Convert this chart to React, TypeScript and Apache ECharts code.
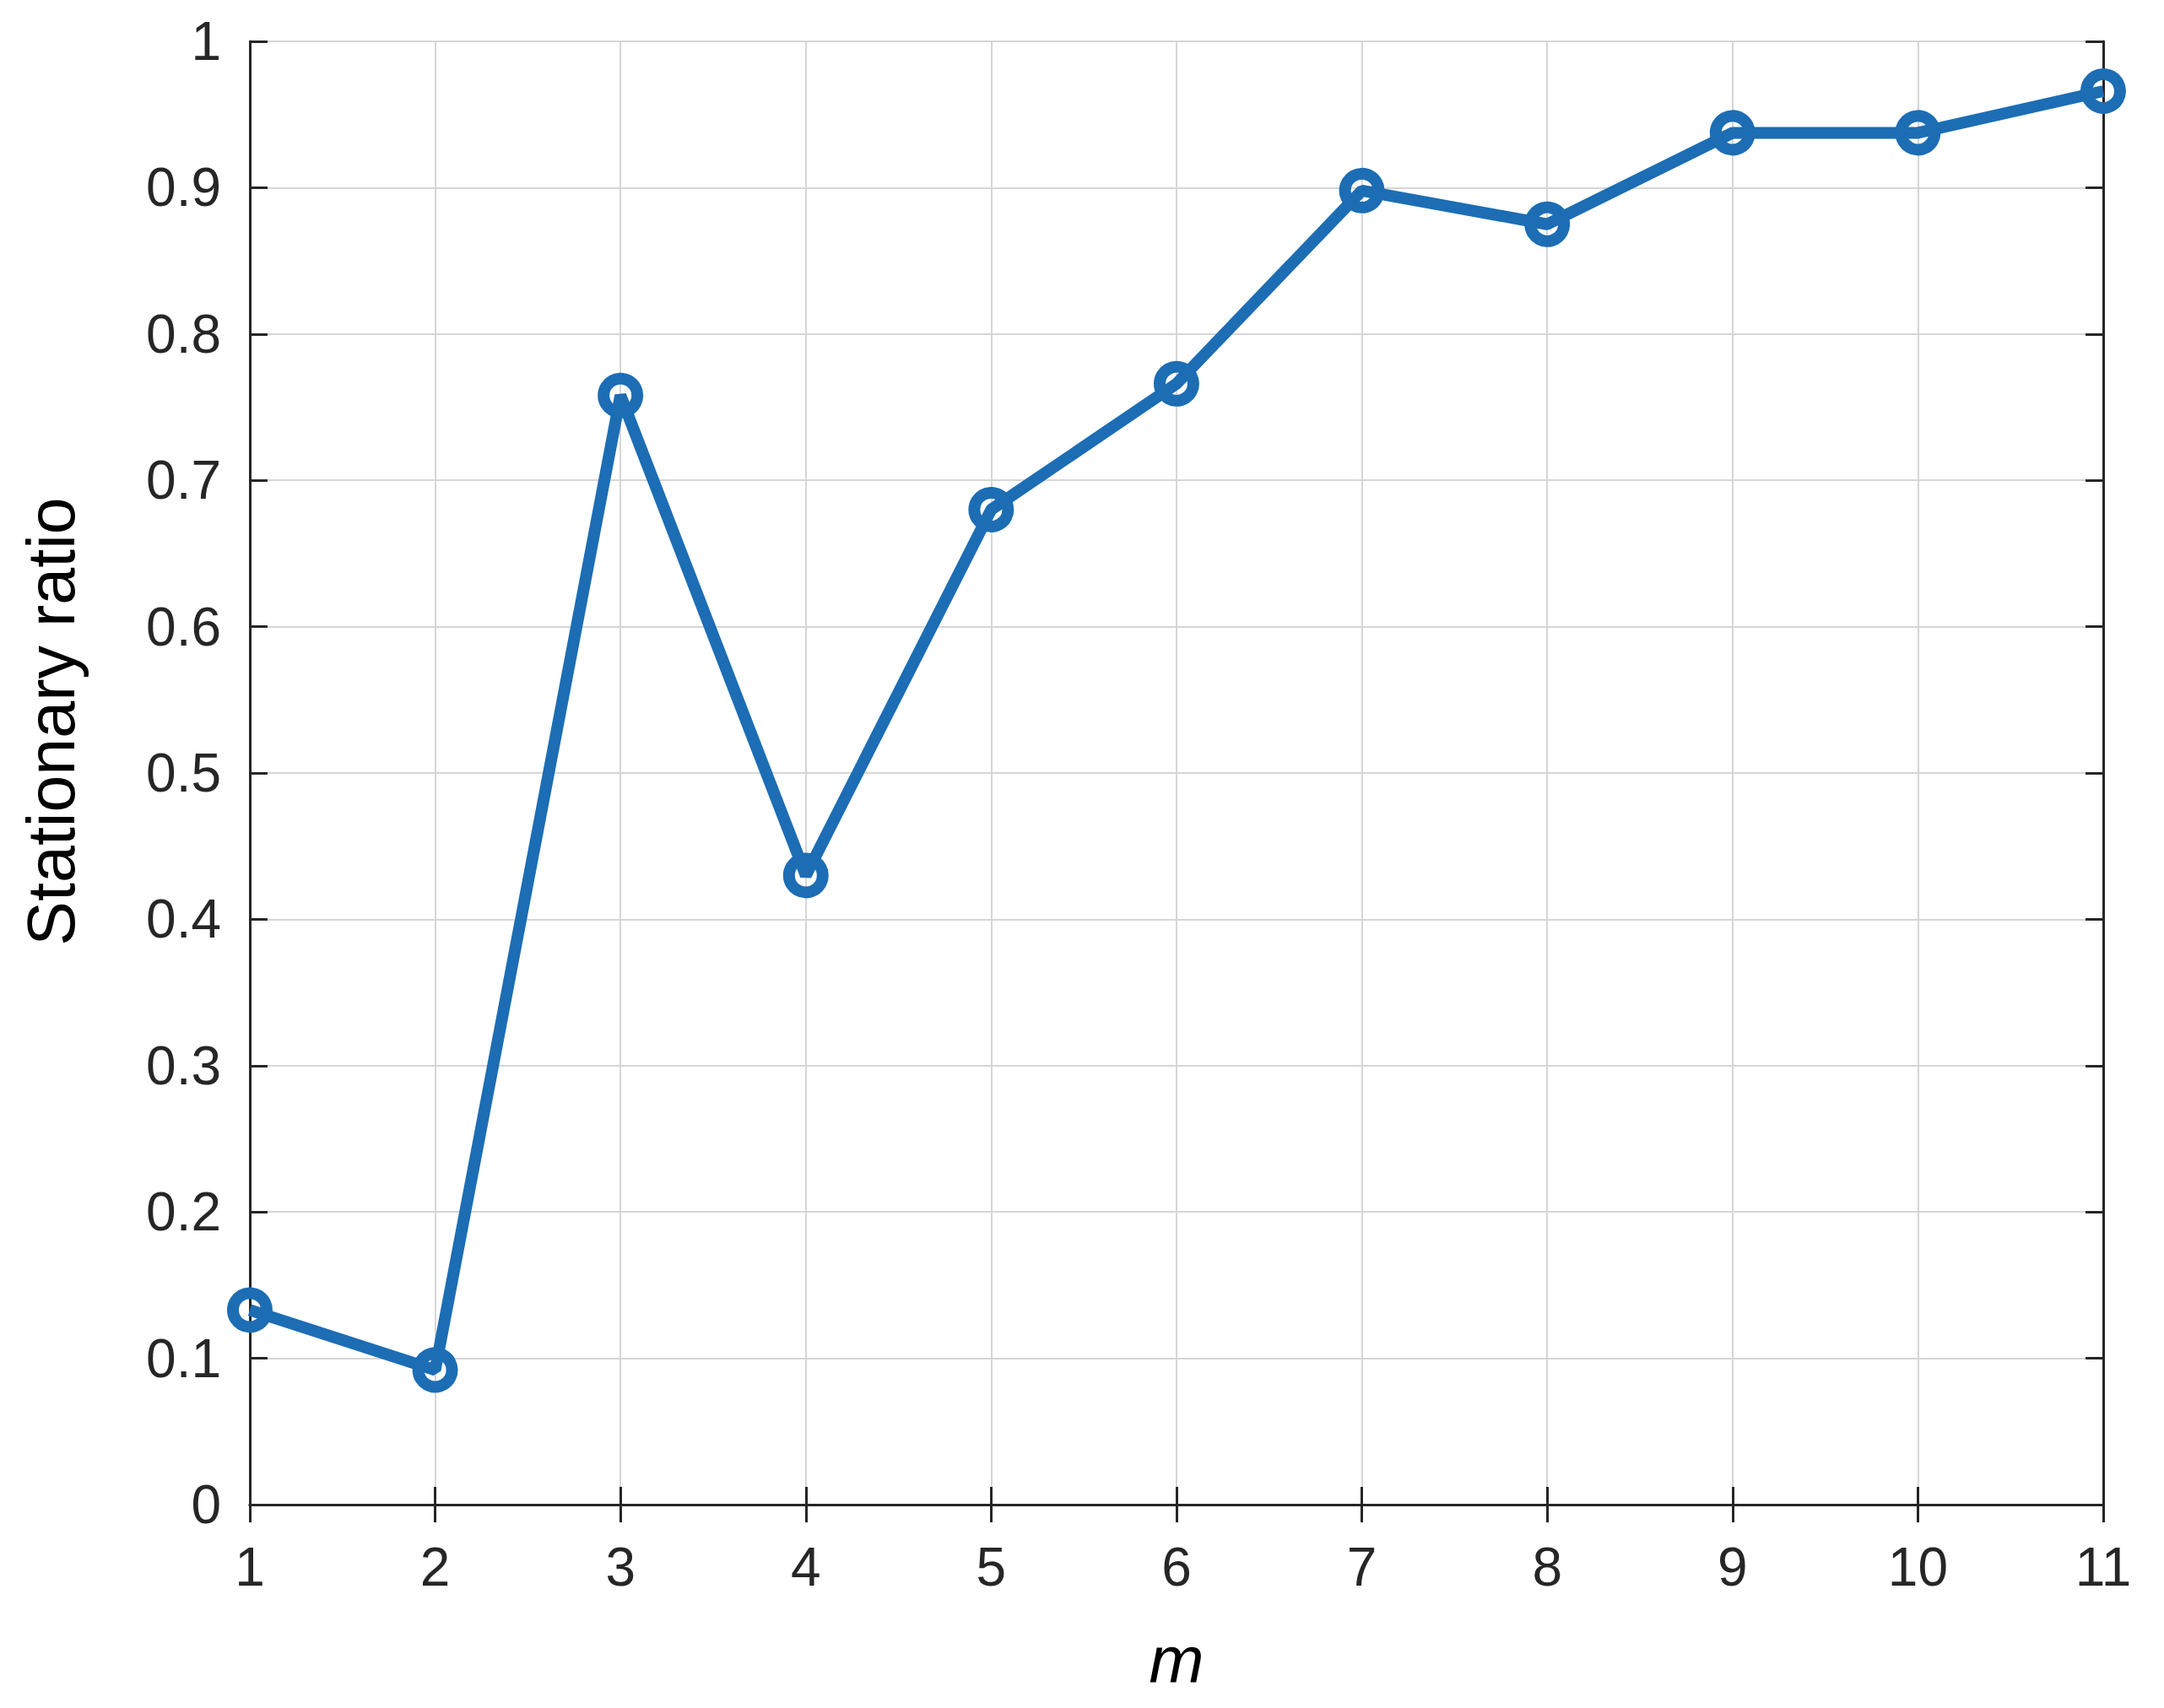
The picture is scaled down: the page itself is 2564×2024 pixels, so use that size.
import React, { useEffect, useRef } from "react";
import * as echarts from "echarts";

const mValues = [1, 2, 3, 4, 5, 6, 7, 8, 9, 10, 11];
const stationaryRatio = [0.133, 0.092, 0.758, 0.43, 0.68, 0.766, 0.898, 0.875, 0.9375, 0.9375, 0.966];
const xTicks = { min: 1, max: 11, interval: 1 };
const yTicks = { min: 0, max: 1, interval: 0.1 };
const xName = "m";
const yName = "Stationary ratio";

const FONT = "'Liberation Sans', Arial, Helvetica, sans-serif";
const AXIS_COLOR = "#262626";
const GRID_COLOR = "#d6d6d6";
const LINE_COLOR = "#1c6db4";

export default function App() {
  const ref = useRef<HTMLDivElement>(null);
  useEffect(() => {
    document.body.style.margin = "0";
    const chart = echarts.init(ref.current!, null, { renderer: "svg" });
    const axisLine = { show: true, lineStyle: { color: AXIS_COLOR, width: 3 } };
    const tickStyle = { show: true, inside: true, length: 21, lineStyle: { color: AXIS_COLOR, width: 3 } };
    const split = { show: true, lineStyle: { color: GRID_COLOR, width: 2 } };
    const fmtY = (v: number) => String(+v.toFixed(1));
    chart.setOption({
      animation: false,
      backgroundColor: "#ffffff",
      grid: { left: 296, top: 49, width: 2196, height: 1734, containLabel: false },
      xAxis: [
        {
          type: "value",
          position: "bottom",
          min: xTicks.min,
          max: xTicks.max,
          interval: xTicks.interval,
          axisLine,
          axisTick: tickStyle,
          splitLine: split,
          axisLabel: { show: true, margin: 42, fontSize: 64, color: AXIS_COLOR, fontFamily: FONT },
          name: xName,
          nameLocation: "middle",
          nameGap: 145,
          nameTextStyle: { fontSize: 78, fontStyle: "italic", color: "#000", fontFamily: FONT },
        },
        {
          type: "value",
          position: "top",
          min: xTicks.min,
          max: xTicks.max,
          interval: xTicks.interval,
          axisLine,
          axisTick: tickStyle,
          splitLine: { show: false },
          axisLabel: { show: false },
        },
      ],
      yAxis: [
        {
          type: "value",
          position: "left",
          min: yTicks.min,
          max: yTicks.max,
          interval: yTicks.interval,
          axisLine,
          axisTick: tickStyle,
          splitLine: split,
          axisLabel: { show: true, margin: 34, fontSize: 64, color: AXIS_COLOR, fontFamily: FONT, formatter: fmtY },
        },
        {
          type: "value",
          position: "right",
          min: yTicks.min,
          max: yTicks.max,
          interval: yTicks.interval,
          axisLine,
          axisTick: tickStyle,
          splitLine: { show: false },
          axisLabel: { show: false },
        },
      ],
      graphic: [
        {
          type: "text",
          x: 60,
          y: 855,
          rotation: Math.PI / 2,
          style: {
            text: yName,
            fontSize: 79,
            fontFamily: FONT,
            fill: "#000",
            align: "center",
            verticalAlign: "middle",
          },
        },
      ],
      series: [
        {
          type: "line",
          data: mValues.map((m, i) => [m, stationaryRatio[i]]),
          xAxisIndex: 0,
          yAxisIndex: 0,
          clip: false,
          symbol: "circle",
          symbolSize: 40,
          showSymbol: true,
          lineStyle: { color: LINE_COLOR, width: 14 },
          itemStyle: { color: "rgba(255,255,255,0)", borderColor: LINE_COLOR, borderWidth: 14 },
          z: 5,
        },
      ],
    });
    return () => chart.dispose();
  }, []);
  return (
    <div
      ref={ref}
      style={{ position: "fixed", left: 0, top: 0, width: 2564, height: 2024, background: "#fff" }}
    />
  );
}
